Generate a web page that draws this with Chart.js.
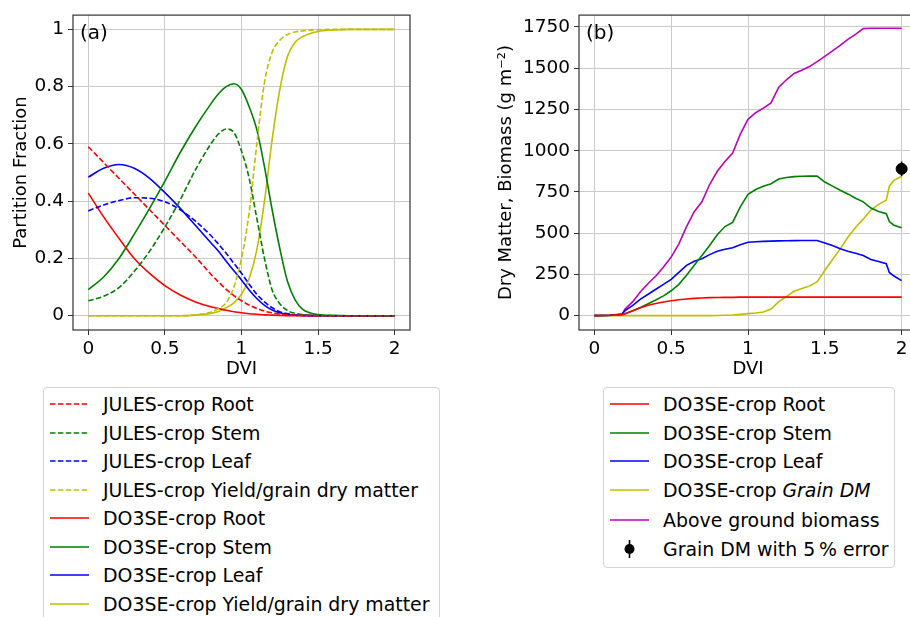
<!DOCTYPE html>
<html lang="en">
<head>
  <meta charset="UTF-8" />
  <title>Partition fractions and dry matter vs DVI</title>
  <script src="https://cdn.jsdelivr.net/npm/chart.js"></script>
  <style>
    body { margin: 0; width: 910px; height: 617px; overflow: hidden; background: #fff;
           position: relative; font-family: "DejaVu Sans", sans-serif; }
    canvas { position: absolute; top: 0; }
    #chartA { left: 0; }
    #chartB { left: 470px; }
    .legend { position: absolute; border: 1px solid #d4d4d4; border-radius: 4px; background: #fff; }
    .row { position: absolute; left: 0; height: 28px; display: flex; align-items: center;
           font-size: 18.9px; color: #000; white-space: nowrap; }
    .row svg { flex: none; }
  </style>
</head>
<body>
  <canvas id="chartA" width="455" height="385"></canvas>
  <canvas id="chartB" width="460" height="385"></canvas>
  <div id="legendA" class="legend" style="left:43px; top:387px; width:395px; height:260px;"></div>
  <div id="legendB" class="legend" style="left:603px; top:387px; width:290px; height:179px;"></div>

  <script>
    // ---- panel (a): partition fractions ----
    const aX = [0, 0.1, 0.2, 0.3, 0.4, 0.5, 0.6, 0.7, 0.8, 0.85, 0.9, 0.95, 1.0, 1.05, 1.1, 1.15, 1.2, 1.25, 1.3, 1.35, 1.4, 1.5, 1.6, 1.7, 1.8, 1.9, 2.0];
    const julesRoot  = [0.59, 0.535, 0.48, 0.425, 0.37, 0.315, 0.26, 0.205, 0.145, 0.118, 0.092, 0.07, 0.052, 0.037, 0.025, 0.016, 0.01, 0.006, 0.003, 0.002, 0.001, 0, 0, 0, 0, 0, 0];
    const julesStem  = [0.052, 0.068, 0.098, 0.155, 0.225, 0.31, 0.405, 0.51, 0.60, 0.635, 0.652, 0.64, 0.575, 0.48, 0.34, 0.2, 0.09, 0.042, 0.018, 0.008, 0.004, 0.001, 0, 0, 0, 0, 0];
    const julesLeaf  = [0.366, 0.387, 0.402, 0.412, 0.41, 0.398, 0.37, 0.33, 0.28, 0.25, 0.218, 0.183, 0.148, 0.11, 0.075, 0.048, 0.028, 0.014, 0.007, 0.003, 0.001, 0, 0, 0, 0, 0, 0];
    const julesGrain = [0, 0, 0, 0, 0, 0, 0, 0.003, 0.012, 0.025, 0.045, 0.1, 0.2, 0.36, 0.6, 0.815, 0.92, 0.962, 0.982, 0.991, 0.995, 0.999, 1, 1, 1, 1, 1];
    const doRoot  = [0.428, 0.345, 0.27, 0.2, 0.148, 0.105, 0.072, 0.048, 0.031, 0.025, 0.019, 0.014, 0.01, 0.007, 0.005, 0.003, 0.002, 0.001, 0, 0, 0, 0, 0, 0, 0, 0, 0];
    const doStem  = [0.091, 0.135, 0.2, 0.285, 0.375, 0.47, 0.57, 0.66, 0.74, 0.775, 0.80, 0.81, 0.79, 0.73, 0.65, 0.52, 0.37, 0.235, 0.12, 0.055, 0.022, 0.004, 0.001, 0, 0, 0, 0];
    const doLeaf  = [0.484, 0.515, 0.528, 0.515, 0.48, 0.43, 0.375, 0.315, 0.255, 0.225, 0.19, 0.157, 0.125, 0.09, 0.06, 0.036, 0.02, 0.01, 0.005, 0.002, 0.001, 0, 0, 0, 0, 0, 0];
    const doGrain = [0, 0, 0, 0, 0, 0, 0, 0.002, 0.008, 0.015, 0.028, 0.045, 0.075, 0.13, 0.23, 0.4, 0.615, 0.79, 0.905, 0.955, 0.975, 0.993, 0.998, 1, 1, 1, 1];

    // ---- panel (b): dry matter (g m-2) ----
    const bX = [0, 0.1, 0.18, 0.2, 0.25, 0.3, 0.35, 0.4, 0.45, 0.5, 0.55, 0.6, 0.65, 0.7, 0.75, 0.8, 0.85, 0.9, 0.95, 1.0, 1.05, 1.1, 1.15, 1.2, 1.25, 1.3, 1.35, 1.4, 1.45, 1.5, 1.55, 1.6, 1.65, 1.7, 1.75, 1.8, 1.85, 1.9, 1.92, 1.95, 2.0];
    const bRoot  = [0, 2, 6, 12, 30, 48, 63, 74, 83, 90, 96, 101, 105, 107, 109, 110, 111, 111, 112, 112, 112, 112, 112, 112, 112, 112, 112, 112, 112, 112, 112, 112, 112, 112, 112, 112, 112, 112, 112, 112, 112];
    const bStem  = [0, 1, 5, 12, 30, 50, 72, 95, 120, 151, 190, 245, 305, 365, 425, 490, 540, 565, 660, 735, 765, 785, 800, 828, 838, 843, 845, 846, 846, 810, 785, 760, 738, 712, 690, 652, 632, 618, 570, 548, 533];
    const bLeaf  = [0, 2, 10, 30, 62, 100, 130, 160, 190, 220, 262, 305, 330, 345, 370, 390, 402, 412, 430, 445, 448, 450, 452, 453, 454, 455, 456, 456, 456, 440, 425, 405, 390, 378, 365, 340, 328, 315, 262, 240, 212];
    const bGrain = [0, 0, 0, 0, 0, 0, 0, 0, 0, 0, 0, 0, 0, 0, 0, 1, 2, 4, 8, 12, 16, 22, 40, 85, 115, 148, 165, 180, 205, 275, 340, 405, 475, 535, 585, 640, 675, 700, 785, 820, 845];
    const bAbove = [0, 2, 8, 40, 85, 145, 195, 240, 295, 355, 435, 540, 630, 690, 795, 875, 935, 985, 1100, 1190, 1230, 1258, 1290, 1385, 1430, 1468, 1488, 1510, 1540, 1572, 1605, 1638, 1675, 1705, 1740, 1742, 1742, 1742, 1742, 1742, 1742];
    const grainObsX = [2.0];
    const grainObs = [890];
    const grainErrPct = 5;

    // ticks
    const xTicks = [0, 0.5, 1, 1.5, 2];
    const aYTicks = [0, 0.2, 0.4, 0.6, 0.8, 1];
    const bYTicks = [0, 250, 500, 750, 1000, 1250, 1500, 1750];

    const RED = '#ff0000', GREEN = '#008000', BLUE = '#0000ff', YEL = '#bfbf00', MAG = '#bf00bf';
    const DASH = [5.5, 2.4];

    Chart.defaults.font.family = '"DejaVu Sans", sans-serif';
    Chart.defaults.font.size = 18;
    Chart.defaults.color = '#000';

    function series(label, xs, ys, color, dashed, smooth) {
      return {
        label,
        data: xs.map((x, i) => ({ x, y: ys[i] })),
        borderColor: color,
        backgroundColor: color,
        borderWidth: 1.6,
        borderDash: dashed ? DASH : [],
        pointRadius: 0,
        fill: false,
        tension: 0,
        cubicInterpolationMode: smooth ? 'monotone' : 'default'
      };
    }

    // box around plot area, panel letter, error bar
    const framePlugin = {
      id: 'frame',
      afterDatasetsDraw(chart, args, opts) {
        const { ctx, chartArea: a } = chart;
        ctx.save();
        if (opts.errorSet != null) {
          const meta = chart.getDatasetMeta(opts.errorSet);
          const ys = chart.scales.y;
          meta.data.forEach((pt, i) => {
            const v = grainObs[i];
            ctx.strokeStyle = '#000';
            ctx.lineWidth = 1.6;
            ctx.beginPath();
            ctx.moveTo(pt.x, ys.getPixelForValue(v * (1 - grainErrPct / 100)));
            ctx.lineTo(pt.x, ys.getPixelForValue(v * (1 + grainErrPct / 100)));
            ctx.stroke();
          });
        }
        ctx.strokeStyle = '#333';
        ctx.lineWidth = 1.2;
        ctx.strokeRect(a.left, a.top, a.right - a.left, a.bottom - a.top);
        ctx.fillStyle = '#000';
        ctx.font = '20px "DejaVu Sans"';
        ctx.textBaseline = 'alphabetic';
        ctx.fillText(opts.label, a.left + 7, a.top + 24);
        ctx.restore();
      }
    };

    function scales(yTicks, yMin, yMax, yTitle, yWidth, yTitlePad, xHeight) {
      const grid = { color: '#cacaca', lineWidth: 1, tickLength: 5, tickColor: '#333', drawTicks: true };
      const tickFont = { size: 18.5 };
      return {
        x: {
          type: 'linear', min: -0.1, max: 2.1,
          afterBuildTicks: s => { s.ticks = xTicks.map(v => ({ value: v })); },
          afterFit: s => { s.height = xHeight; },
          ticks: { callback: v => String(v), autoSkip: false, maxRotation: 0, padding: 3, font: tickFont },
          grid, border: { display: false },
          title: { display: true, text: 'DVI', padding: { top: 4.5, bottom: 4.5 } }
        },
        y: {
          type: 'linear', min: yMin, max: yMax,
          afterBuildTicks: s => { s.ticks = yTicks.map(v => ({ value: v })); },
          afterFit: s => { s.width = yWidth; },
          ticks: { callback: v => String(v), autoSkip: false, padding: 4, font: tickFont },
          grid, border: { display: false },
          title: { display: true, text: yTitle, padding: { top: yTitlePad, bottom: 0 } }
        }
      };
    }

    const setsA = [
      series('JULES-crop Root', aX, julesRoot, RED, true, true),
      series('JULES-crop Stem', aX, julesStem, GREEN, true, true),
      series('JULES-crop Leaf', aX, julesLeaf, BLUE, true, true),
      series('JULES-crop Yield/grain dry matter', aX, julesGrain, YEL, true, true),
      series('DO3SE-crop Root', aX, doRoot, RED, false, true),
      series('DO3SE-crop Stem', aX, doStem, GREEN, false, true),
      series('DO3SE-crop Leaf', aX, doLeaf, BLUE, false, true),
      series('DO3SE-crop Yield/grain dry matter', aX, doGrain, YEL, false, true)
    ];

    new Chart(document.getElementById('chartA'), {
      type: 'line',
      data: { datasets: setsA },
      options: {
        responsive: false, animation: false,
        layout: { padding: { left: 0, top: 13, right: 45, bottom: 0 } },
        plugins: { legend: { display: false }, tooltip: { enabled: false }, frame: { label: '(a)' } },
        scales: scales(aYTicks, -0.05, 1.05, 'Partition Fraction', 73, 10.8, 55)
      },
      plugins: [framePlugin]
    });

    const setsB = [
      series('DO3SE-crop Root', bX, bRoot, RED, false, false),
      series('DO3SE-crop Stem', bX, bStem, GREEN, false, false),
      series('DO3SE-crop Leaf', bX, bLeaf, BLUE, false, false),
      series('DO3SE-crop Grain DM', bX, bGrain, YEL, false, false),
      series('Above ground biomass', bX, bAbove, MAG, false, false),
      {
        label: 'Grain DM with 5% error',
        data: grainObsX.map((x, i) => ({ x, y: grainObs[i] })),
        showLine: false, pointRadius: 5.5, pointBackgroundColor: '#000', pointBorderColor: '#000',
        borderColor: '#000', backgroundColor: '#000'
      }
    ];

    new Chart(document.getElementById('chartB'), {
      type: 'line',
      data: { datasets: setsB },
      options: {
        responsive: false, animation: false,
        layout: { padding: { left: 0, top: 13, right: 13, bottom: 0 } },
        plugins: { legend: { display: false }, tooltip: { enabled: false }, frame: { label: '(b)', errorSet: 5 } },
        scales: scales(bYTicks, -87, 1822, 'Dry Matter, Biomass (g m\u207B\u00B2)', 109, 25.8, 55)
      },
      plugins: [framePlugin]
    });

    // ---- legends (HTML, built from the datasets) ----
    function sample(ds, isPoint) {
      if (isPoint) {
        return '<svg width="39" height="26"><line x1="19.5" y1="4" x2="19.5" y2="22" stroke="#000" stroke-width="1.6"/>' +
               '<circle cx="19.5" cy="13" r="5" fill="#000"/></svg>';
      }
      const dash = ds.borderDash.length ? ` stroke-dasharray="${ds.borderDash.join(' ')}"` : '';
      return `<svg width="39" height="6"><line x1="0" y1="3" x2="39" y2="3" stroke="${ds.borderColor}" stroke-width="1.6"${dash}/></svg>`;
    }

    function legend(id, sets, centers, labels) {
      const box = document.getElementById(id);
      sets.forEach((ds, i) => {
        const row = document.createElement('div');
        row.className = 'row';
        row.style.top = (centers[i] - 14) + 'px';
        row.style.left = '6px';
        row.innerHTML = sample(ds, ds.showLine === false) +
          `<span style="margin-left:14px">${labels ? labels[i] : ds.label}</span>`;
        box.appendChild(row);
      });
    }

    legend('legendA', setsA, [16, 44.5, 73, 101.5, 130, 158.5, 187, 215.5]);
    legend('legendB', setsB, [16, 44.5, 73, 102, 132, 161],
      ['DO3SE-crop Root', 'DO3SE-crop Stem', 'DO3SE-crop Leaf', 'DO3SE-crop <i>Grain DM</i>',
       'Above ground biomass', 'Grain DM with 5\u2009% error']);
  </script>
</body>
</html>
